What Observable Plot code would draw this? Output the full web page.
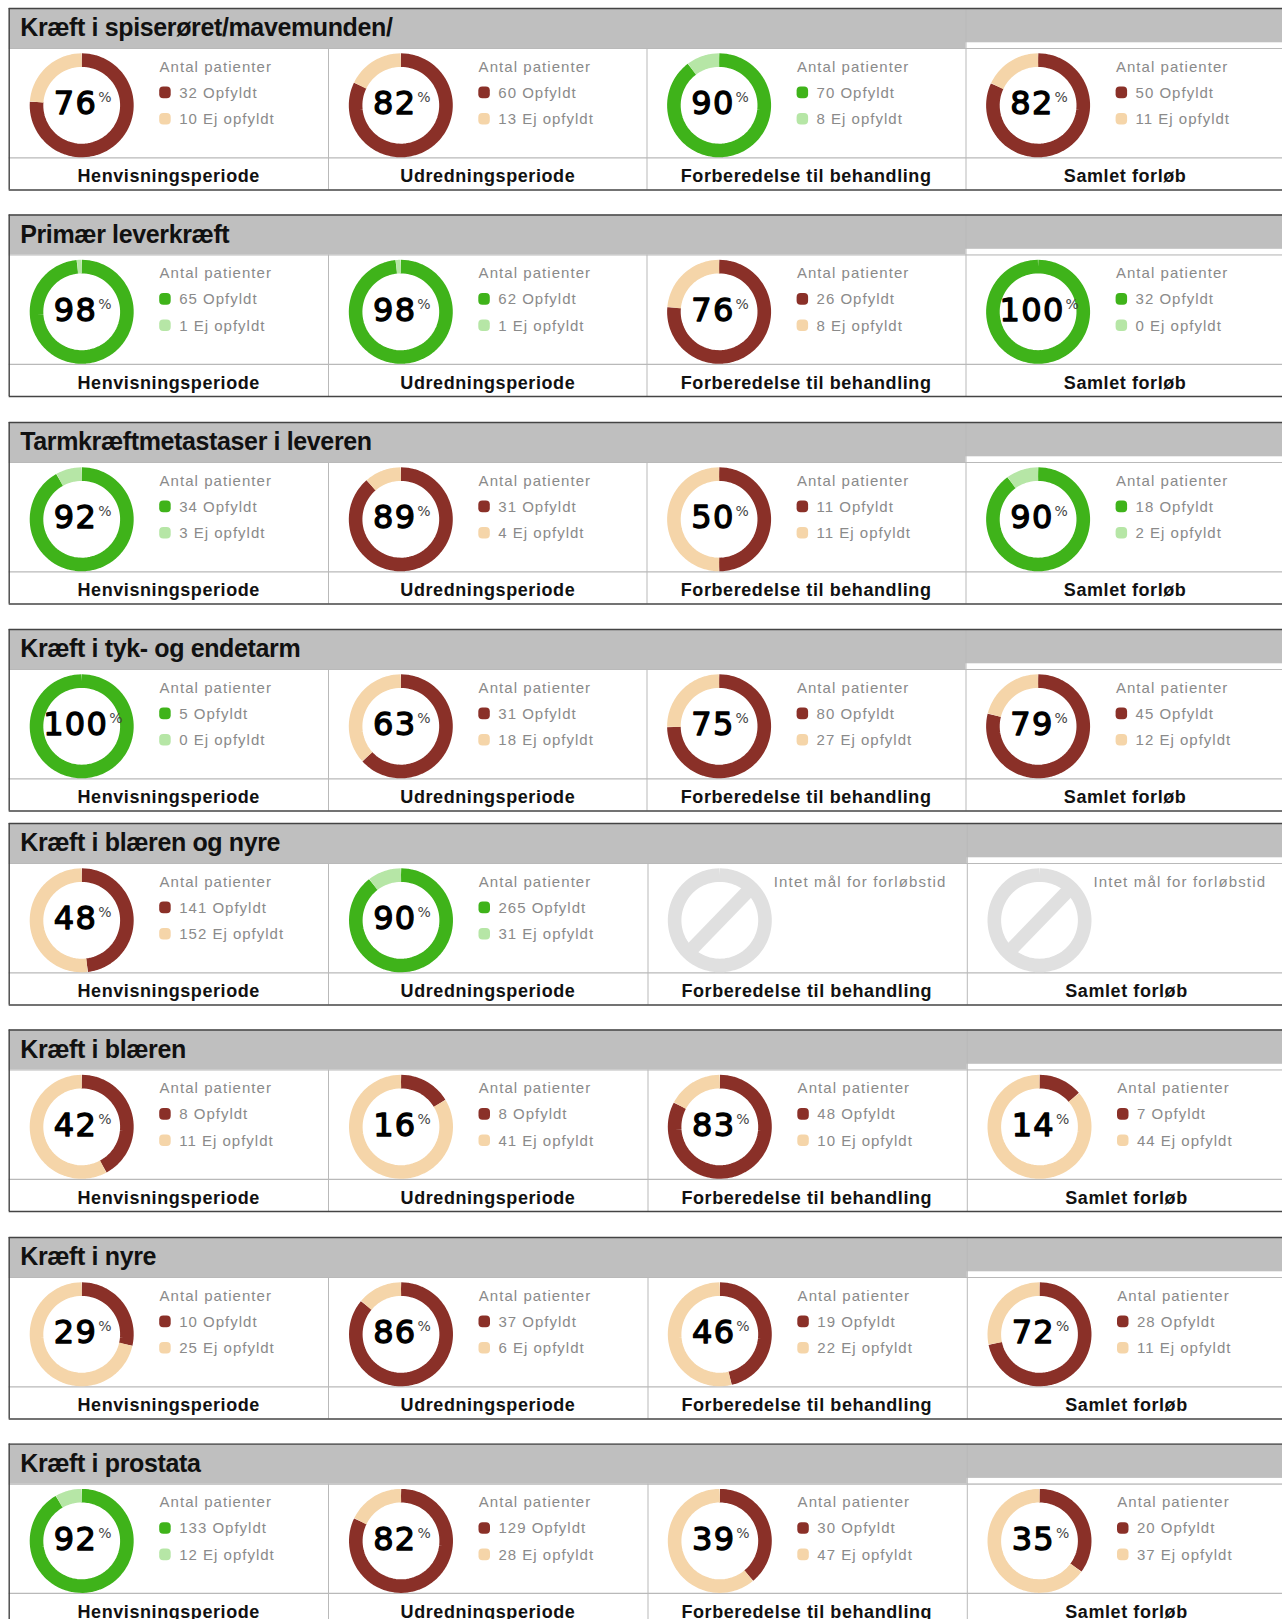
<!DOCTYPE html>
<html lang="da">
<head>
<meta charset="utf-8">
<script src="https://cdn.jsdelivr.net/npm/d3@7"></script>
<script src="https://cdn.jsdelivr.net/npm/@observablehq/plot@0.6"></script>
<style>html,body{margin:0;padding:0;background:#fff;overflow:hidden}svg{display:block}</style>
</head>
<body>
<div id="chart"></div>
<script>
// ---- data ----
const panelNames = ["Kræft i spiserøret/mavemunden/","Primær leverkræft","Tarmkræftmetastaser i leveren","Kræft i tyk- og endetarm","Kræft i blæren og nyre","Kræft i blæren","Kræft i nyre","Kræft i prostata"];
const periods = ["Henvisningsperiode","Udredningsperiode","Forberedelse til behandling","Samlet forløb"];
const percent = [[76,82,90,82],[98,98,76,100],[92,89,50,90],[100,63,75,79],[48,90,null,null],[42,16,83,14],[29,86,46,72],[92,82,39,35]];
const opfyldt = [[32,60,70,50],[65,62,26,32],[34,31,11,18],[5,31,80,45],[141,265,null,null],[8,8,48,7],[10,37,19,28],[133,129,30,20]];
const ejOpfyldt = [[10,13,8,11],[1,1,8,0],[3,4,11,2],[0,18,27,12],[152,31,null,null],[11,41,10,44],[25,6,22,11],[12,28,47,37]];
const onTarget = [[0,0,1,0],[1,1,0,1],[1,0,0,1],[1,0,0,0],[0,1,null,null],[0,0,0,0],[0,0,0,0],[1,0,0,0]];
const legendTitle = "Antal patienter", noTarget = "Intet mål for forløbstid";

// ---- layout and style ----
const W = 1282, H = 1619;
const tops = [8,214.5,422,629,823,1029.5,1237,1443.6];
const left = 8.7;
const cxEarly = [81.2,400.3,718.6,1037.6], cxLate = [81.2,400.5,719.3,1039];
const divEarly = [328,646.5,965.5], divLate = [328,647.5,966.8];
const R = 45.2, RING = 13.6, HEADER = 40, NOTCH = 34.3, ROW = 149.3, BOTTOM = 181.5, CY = 96.8;
const RED = "#8a3028", SAND = "#f5d5a9", GREEN = "#3fb31a", MINT = "#b6e6a6", BAN = "#e0e0e0", HEAD = "#bfbfbf", GRID = "#b9b9b9", EDGE = "#444";
const SANS = "'Liberation Sans',Arial,sans-serif", NUM = "'DejaVu Sans',sans-serif";

const cells = [];
tops.forEach((top,p) => periods.forEach((period,c) => {
  const cx = (p >= 4 ? cxLate : cxEarly)[c];
  cells.push({p,c,top,period,cx,cy:top+CY,pct:percent[p][c],yes:opfyldt[p][c],no:ejOpfyldt[p][c],good:onTarget[p][c]});
}));
const measured = cells.filter(d => d.pct !== null), missing = cells.filter(d => d.pct === null);

// ring segments, sampled along the circle from each cell's own counts
const ringPts = [];
function arc(id,cx,cy,a0,a1,color){
  const n = Math.max(2,Math.ceil((a1-a0)*90));
  for(let i=0;i<=n;i++){const t=(a0+(a1-a0)*i/n)*2*Math.PI;
    ringPts.push({id,color,x:cx+R*Math.sin(t),y:cy-R*Math.cos(t)});}
}
measured.forEach((d,k) => {
  const share = d.yes/(d.yes+d.no);
  arc("y"+k,d.cx,d.cy,0,share,d.good?GREEN:RED);
  if(d.no>0) arc("n"+k,d.cx,d.cy,share,1,d.good?MINT:SAND);
});
missing.forEach((d,k) => arc("b"+k,d.cx,d.cy,0,1,BAN));

function spaced(ls){return function(i,s,v,dim,ctx,next){const g=next(i,s,v,dim,ctx);g.style.letterSpacing=ls;return g;};}
const divs = tops.flatMap((top,p) => (p>=4?divLate:divEarly).map((x,i) => ({x,top,i})));
const legendRows = measured.flatMap(d => [
  {...d,kind:"yes",row:84.4,label:`${d.yes} Opfyldt`,color:d.good?GREEN:RED},
  {...d,kind:"no",row:110.8,label:`${d.no} Ej opfyldt`,color:d.good?MINT:SAND}
]);
const numEnd = d => d.cx+(d.pct===100?26.5:15.5);

const chart = Plot.plot({
  width:W,height:H,margin:0,
  x:{domain:[0,W],range:[0,W],axis:null},
  y:{domain:[0,H],range:[0,H],axis:null},
  color:{type:"identity"},
  marks:[
    // header bands
    Plot.rect(tops,{x1:left,x2:W,y1:d=>d,y2:d=>d+HEADER,fill:HEAD}),
    // white notch above the last column
    Plot.rect(tops.map((top,p)=>({top,x:(p>=4?divLate:divEarly)[2]})),{x1:d=>d.x,x2:W,y1:d=>d.top+NOTCH,y2:d=>d.top+HEADER,fill:"#fff"}),
    // inner rules
    Plot.ruleY(tops,{x1:left,x2:W,y:d=>d+HEADER,stroke:GRID,strokeWidth:1.2}),
    Plot.ruleY(tops,{x1:left,x2:W,y:d=>d+ROW,stroke:GRID,strokeWidth:1.2}),
    Plot.ruleX(divs,{x:"x",y1:d=>d.top+(d.i===2?1:HEADER),y2:d=>d.top+BOTTOM,stroke:GRID,strokeWidth:1}),
    // panel outline (open on the right, where the picture is cut)
    Plot.ruleY(tops,{x1:left,x2:W,y:d=>d,stroke:EDGE,strokeWidth:1.4}),
    Plot.ruleY(tops,{x1:left,x2:W,y:d=>d+BOTTOM,stroke:EDGE,strokeWidth:1.4}),
    Plot.ruleX(tops,{x:left,y1:d=>d,y2:d=>d+BOTTOM,stroke:EDGE,strokeWidth:1.4}),
    // rings
    Plot.line(ringPts,{x:"x",y:"y",z:"id",stroke:"color",strokeWidth:RING,strokeLinecap:"butt",strokeLinejoin:"round"}),
    Plot.link(missing,{x1:d=>d.cx-31,y1:d=>d.cy+32,x2:d=>d.cx+31,y2:d=>d.cy-32,stroke:BAN,strokeWidth:RING,strokeLinecap:"butt",markerEnd:"none"}),
    // titles
    Plot.text(tops.map((top,p)=>({top,name:panelNames[p]})),{x:left+11,y:d=>d.top+19.5,text:"name",textAnchor:"start",fontFamily:SANS,fontWeight:"bold",fontSize:25,fill:"#111",render:spaced("-0.37px")}),
    // percentages
    Plot.text(measured,{x:numEnd,y:d=>d.cy-1.2,text:d=>String(d.pct),textAnchor:"end",fontFamily:NUM,fontSize:32,fill:"#000",stroke:"#000",strokeWidth:1.3,render:spaced("1.3px")}),
    Plot.text(measured,{x:d=>numEnd(d)+1,y:d=>d.cy-7.5,text:()=>"%",textAnchor:"start",fontFamily:NUM,fontSize:14,fill:"#444"}),
    // legends
    Plot.text(measured,{x:d=>d.cx+77.8,y:d=>d.top+58.4,text:()=>legendTitle,textAnchor:"start",fontFamily:SANS,fontSize:15,fill:"#8a8a8a",render:spaced("1.05px")}),
    Plot.rect(legendRows,{x1:d=>d.cx+78,x2:d=>d.cx+89.5,y1:d=>d.top+d.row-5.8,y2:d=>d.top+d.row+5.8,fill:"color",rx:4}),
    Plot.text(legendRows,{x:d=>d.cx+97.5,y:d=>d.top+d.row,text:"label",textAnchor:"start",fontFamily:SANS,fontSize:15,fill:"#8a8a8a",render:spaced("1px")}),
    Plot.text(missing,{x:d=>d.cx+54,y:d=>d.top+58.4,text:()=>noTarget,textAnchor:"start",fontFamily:SANS,fontSize:15,fill:"#8a8a8a",render:spaced("1.15px")}),
    // period labels
    Plot.text(cells,{x:d=>d.cx+87,y:d=>d.top+168,text:"period",fontFamily:SANS,fontWeight:"bold",fontSize:18,fill:"#111",render:spaced("0.58px")})
  ]
});
document.getElementById("chart").append(chart);
</script>
</body>
</html>
